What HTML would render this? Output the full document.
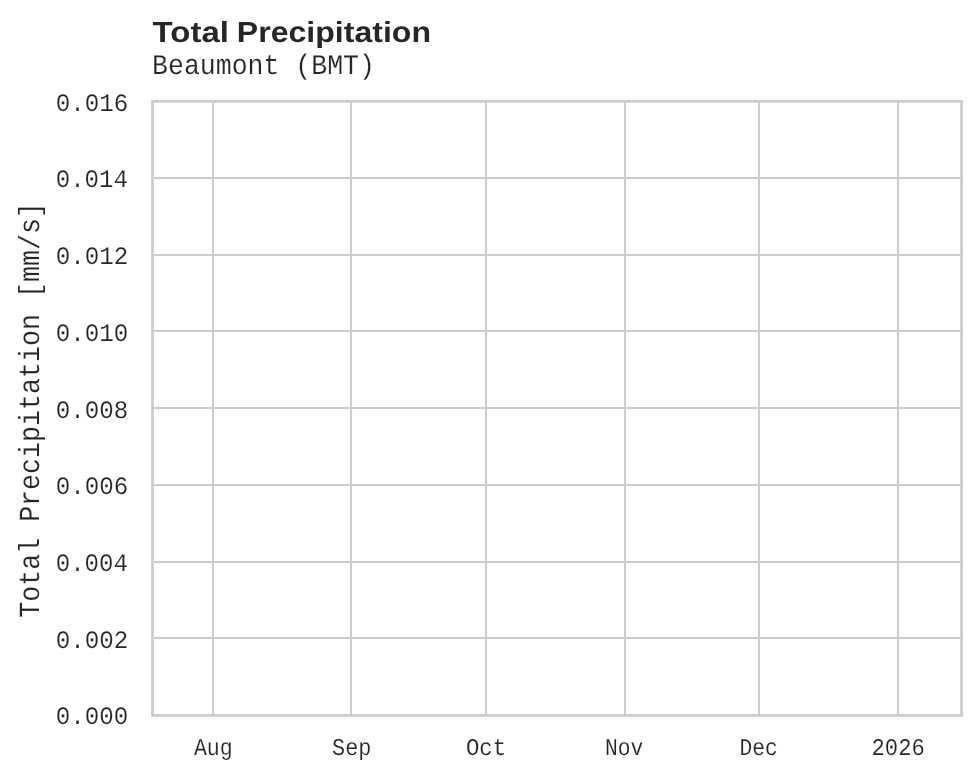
<!DOCTYPE html>
<html><head><meta charset="utf-8"><title>Total Precipitation</title>
<style>html,body{margin:0;padding:0;background:#fff;width:980px;height:780px;overflow:hidden}svg{display:block}</style>
</head><body><svg width="980" height="780" viewBox="0 0 980 780"><rect x="0" y="0" width="980" height="780" fill="#ffffff"/><rect x="152" y="177" width="810" height="2" fill="#cccccc"/><rect x="152" y="254" width="810" height="2" fill="#cccccc"/><rect x="152" y="330" width="810" height="2" fill="#cccccc"/><rect x="152" y="407" width="810" height="2" fill="#cccccc"/><rect x="152" y="484" width="810" height="2" fill="#cccccc"/><rect x="152" y="561" width="810" height="2" fill="#cccccc"/><rect x="152" y="637" width="810" height="2" fill="#cccccc"/><rect x="212" y="101" width="2" height="615" fill="#cccccc"/><rect x="350" y="101" width="2" height="615" fill="#cccccc"/><rect x="485" y="101" width="2" height="615" fill="#cccccc"/><rect x="624" y="101" width="2" height="615" fill="#cccccc"/><rect x="758" y="101" width="2" height="615" fill="#cccccc"/><rect x="897" y="101" width="2" height="615" fill="#cccccc"/><rect x="152.475" y="101.375" width="809.05" height="614.05" fill="none" stroke="#cccccc" stroke-width="2.75" stroke-linecap="square"/><g style="will-change:transform;text-rendering:geometricPrecision"><text x="152.64" y="42.00" font-family="&quot;Liberation Sans&quot;, sans-serif" font-weight="bold" font-size="29.070" textLength="76.32" lengthAdjust="spacingAndGlyphs" fill="#262626">Total</text><text x="236.86" y="42.00" font-family="&quot;Liberation Sans&quot;, sans-serif" font-weight="bold" font-size="29.070" textLength="194.13" lengthAdjust="spacingAndGlyphs" fill="#262626">Precipitation</text><text x="152.10" y="73.70" font-family="&quot;Liberation Mono&quot;, monospace" font-weight="normal" font-size="28.390" textLength="222.85" lengthAdjust="spacingAndGlyphs" fill="#262626" stroke="#ffffff" stroke-width="0.15">Beaumont (BMT)</text><text x="55.74" y="110.50" font-family="&quot;Liberation Mono&quot;, monospace" font-weight="normal" font-size="25.114" textLength="72.53" lengthAdjust="spacingAndGlyphs" fill="#262626" stroke="#ffffff" stroke-width="0.15">0.016</text><text x="55.74" y="186.50" font-family="&quot;Liberation Mono&quot;, monospace" font-weight="normal" font-size="25.114" textLength="72.18" lengthAdjust="spacingAndGlyphs" fill="#262626" stroke="#ffffff" stroke-width="0.15">0.014</text><text x="55.73" y="263.50" font-family="&quot;Liberation Mono&quot;, monospace" font-weight="normal" font-size="25.114" textLength="72.68" lengthAdjust="spacingAndGlyphs" fill="#262626" stroke="#ffffff" stroke-width="0.15">0.012</text><text x="55.74" y="340.50" font-family="&quot;Liberation Mono&quot;, monospace" font-weight="normal" font-size="25.114" textLength="72.45" lengthAdjust="spacingAndGlyphs" fill="#262626" stroke="#ffffff" stroke-width="0.15">0.010</text><text x="55.74" y="417.50" font-family="&quot;Liberation Mono&quot;, monospace" font-weight="normal" font-size="25.114" textLength="72.56" lengthAdjust="spacingAndGlyphs" fill="#262626" stroke="#ffffff" stroke-width="0.15">0.008</text><text x="55.74" y="493.50" font-family="&quot;Liberation Mono&quot;, monospace" font-weight="normal" font-size="25.114" textLength="72.53" lengthAdjust="spacingAndGlyphs" fill="#262626" stroke="#ffffff" stroke-width="0.15">0.006</text><text x="55.74" y="570.50" font-family="&quot;Liberation Mono&quot;, monospace" font-weight="normal" font-size="25.114" textLength="72.18" lengthAdjust="spacingAndGlyphs" fill="#262626" stroke="#ffffff" stroke-width="0.15">0.004</text><text x="55.73" y="647.50" font-family="&quot;Liberation Mono&quot;, monospace" font-weight="normal" font-size="25.114" textLength="72.68" lengthAdjust="spacingAndGlyphs" fill="#262626" stroke="#ffffff" stroke-width="0.15">0.002</text><text x="55.74" y="723.50" font-family="&quot;Liberation Mono&quot;, monospace" font-weight="normal" font-size="25.114" textLength="72.45" lengthAdjust="spacingAndGlyphs" fill="#262626" stroke="#ffffff" stroke-width="0.15">0.000</text><text x="193.90" y="754.80" font-family="&quot;Liberation Mono&quot;, monospace" font-weight="normal" font-size="23.987" textLength="38.84" lengthAdjust="spacingAndGlyphs" fill="#262626" stroke="#ffffff" stroke-width="0.15">Aug</text><text x="332.06" y="754.80" font-family="&quot;Liberation Mono&quot;, monospace" font-weight="normal" font-size="23.987" textLength="39.33" lengthAdjust="spacingAndGlyphs" fill="#262626" stroke="#ffffff" stroke-width="0.15">Sep</text><text x="465.89" y="754.80" font-family="&quot;Liberation Mono&quot;, monospace" font-weight="normal" font-size="23.987" textLength="40.23" lengthAdjust="spacingAndGlyphs" fill="#262626" stroke="#ffffff" stroke-width="0.15">Oct</text><text x="604.92" y="754.80" font-family="&quot;Liberation Mono&quot;, monospace" font-weight="normal" font-size="23.987" textLength="38.31" lengthAdjust="spacingAndGlyphs" fill="#262626" stroke="#ffffff" stroke-width="0.15">Nov</text><text x="739.52" y="754.80" font-family="&quot;Liberation Mono&quot;, monospace" font-weight="normal" font-size="23.987" textLength="38.22" lengthAdjust="spacingAndGlyphs" fill="#262626" stroke="#ffffff" stroke-width="0.15">Dec</text><text x="871.54" y="754.80" font-family="&quot;Liberation Mono&quot;, monospace" font-weight="normal" font-size="23.987" textLength="53.20" lengthAdjust="spacingAndGlyphs" fill="#262626" stroke="#ffffff" stroke-width="0.15">2026</text><text transform="rotate(-90)" x="-617.79" y="38.80" font-family="&quot;Liberation Mono&quot;, monospace" font-size="29.149" textLength="415.65" lengthAdjust="spacingAndGlyphs" fill="#262626" stroke="#ffffff" stroke-width="0.15">Total Precipitation [mm/s]</text></g></svg></body></html>
